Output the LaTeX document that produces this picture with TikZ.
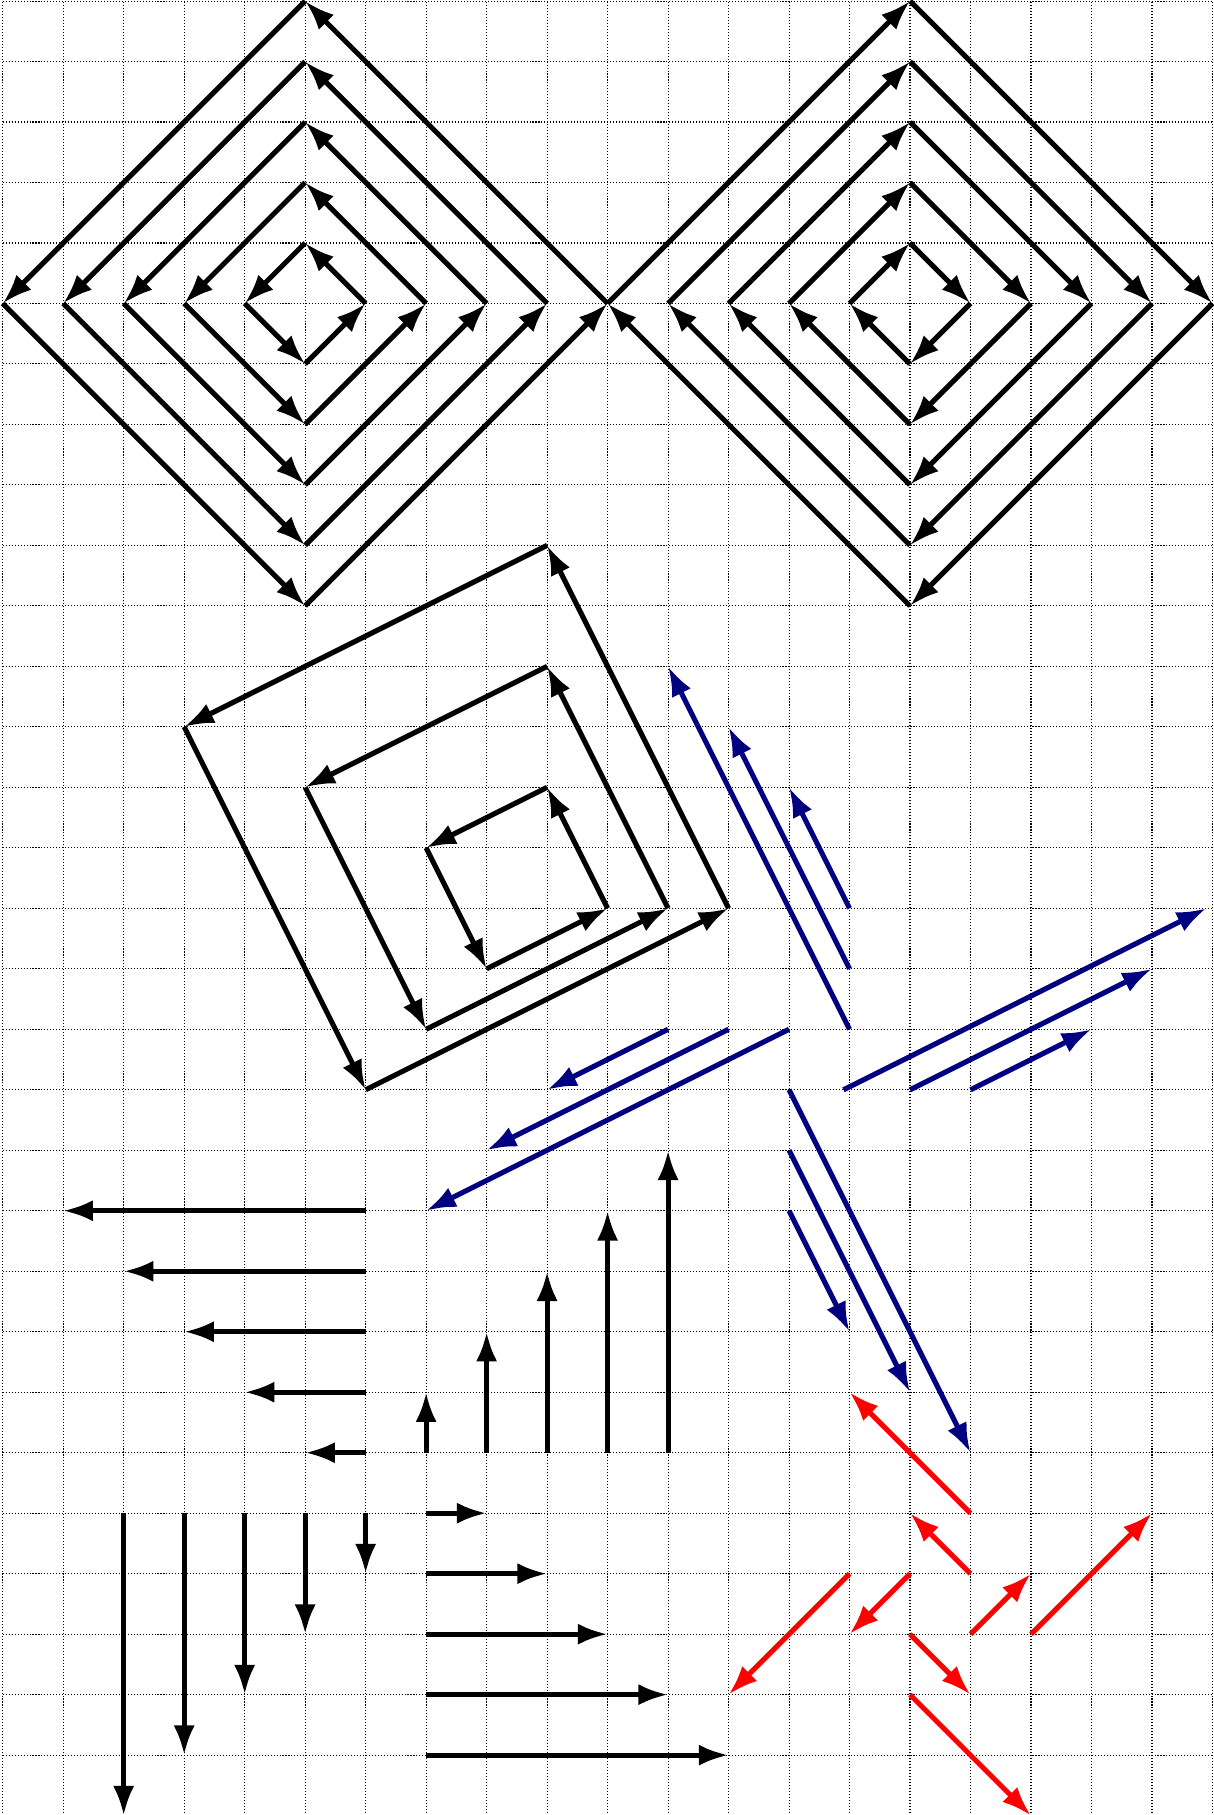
\documentclass[tikz,border=0pt]{standalone}
\usetikzlibrary{arrows.meta}

\definecolor{navyblue}{rgb}{0,0,0.5}

\begin{document}
\begin{tikzpicture}[
  x=1cm, y=-1cm,
  >={Latex[length=14pt, width=10pt]},
  vec/.style={->, line width=2.4pt},
  bluevec/.style={vec, navyblue},
  redvec/.style={vec, red},
  gridline/.style={dash pattern=on 0.5pt off 0.9pt, line width=0.5pt, black},
]

% ── Page frame and grid ──────────────────────────────────────────────────────
\useasboundingbox (-0.045,-0.017) rectangle (20.01,29.99);
\draw[gridline] (0,0) grid (20,30);

% ── Nested diamonds (top) ────────────────────────────────────────────────────
\def\cxL{5}        % centre of left diamond (x)
\def\cxR{15}       % centre of right diamond (x)
\def\cy{5}         % centre of both diamonds (y, counted downwards)

% Left diamond: right -> top -> left -> bottom -> right
\foreach \r in {1,...,5} {
  \draw[vec] (\cxL+\r,\cy) -- (\cxL,\cy-\r);
  \draw[vec] (\cxL,\cy-\r) -- (\cxL-\r,\cy);
  \draw[vec] (\cxL-\r,\cy) -- (\cxL,\cy+\r);
  \draw[vec] (\cxL,\cy+\r) -- (\cxL+\r,\cy);
}

% Right diamond: left -> top -> right -> bottom -> left
\foreach \r in {1,...,5} {
  \draw[vec] (\cxR-\r,\cy) -- (\cxR,\cy-\r);
  \draw[vec] (\cxR,\cy-\r) -- (\cxR+\r,\cy);
  \draw[vec] (\cxR+\r,\cy) -- (\cxR,\cy+\r);
  \draw[vec] (\cxR,\cy+\r) -- (\cxR-\r,\cy);
}

% ── Tilted squares (middle) ──────────────────────────────────────────────────
% Side vectors are multiples of (-1,-2) and (-2,1)
\foreach \s in {1,2,3} {
  \draw[vec] (9+\s,15)       -- (9,15-2*\s);
  \draw[vec] (9,15-2*\s)     -- (9-2*\s,15-\s);
  \draw[vec] (9-2*\s,15-\s)  -- (9-\s,15+\s);
  \draw[vec] (9-\s,15+\s)    -- (9+\s,15);
}

% ── Blue pinwheel ────────────────────────────────────────────────────────────
\foreach \k in {1,2,3} {
  \draw[bluevec] (14,14+\k)  -- (14-\k,14-\k);   % up-left
  \draw[bluevec] (10+\k,17)  -- (10-\k,17+\k);   % down-left
  \draw[bluevec] (13,21-\k)  -- (13+\k,21+\k);   % down-right
}
\foreach \k/\dx in {1/0, 2/0, 3/-0.1}
  \draw[bluevec] (17-\k+\dx,18) -- (17+\k+\dx,18-\k);   % up-right

% ── Black axis arrows (bottom left) ──────────────────────────────────────────
\foreach \k in {1,...,5} {
  \draw[vec] (6,25-\k) -- (6-\k,25-\k);   % leftwards
  \draw[vec] (6+\k,24) -- (6+\k,24-\k);   % upwards
  \draw[vec] (7-\k,25) -- (7-\k,25+\k);   % downwards
  \draw[vec] (7,24+\k) -- (7+\k,24+\k);   % rightwards
}

% ── Red diagonal arrows (bottom right) ───────────────────────────────────────
\foreach \xa/\ya/\xb/\yb in {16/25/14/23, 16/26/15/25, 14/26/12/28,
                             15/26/14/27, 16/27/17/26, 17/27/19/25,
                             15/27/16/28, 15/28/17/30}
  \draw[redvec] (\xa,\ya) -- (\xb,\yb);

\end{tikzpicture}
\end{document}
